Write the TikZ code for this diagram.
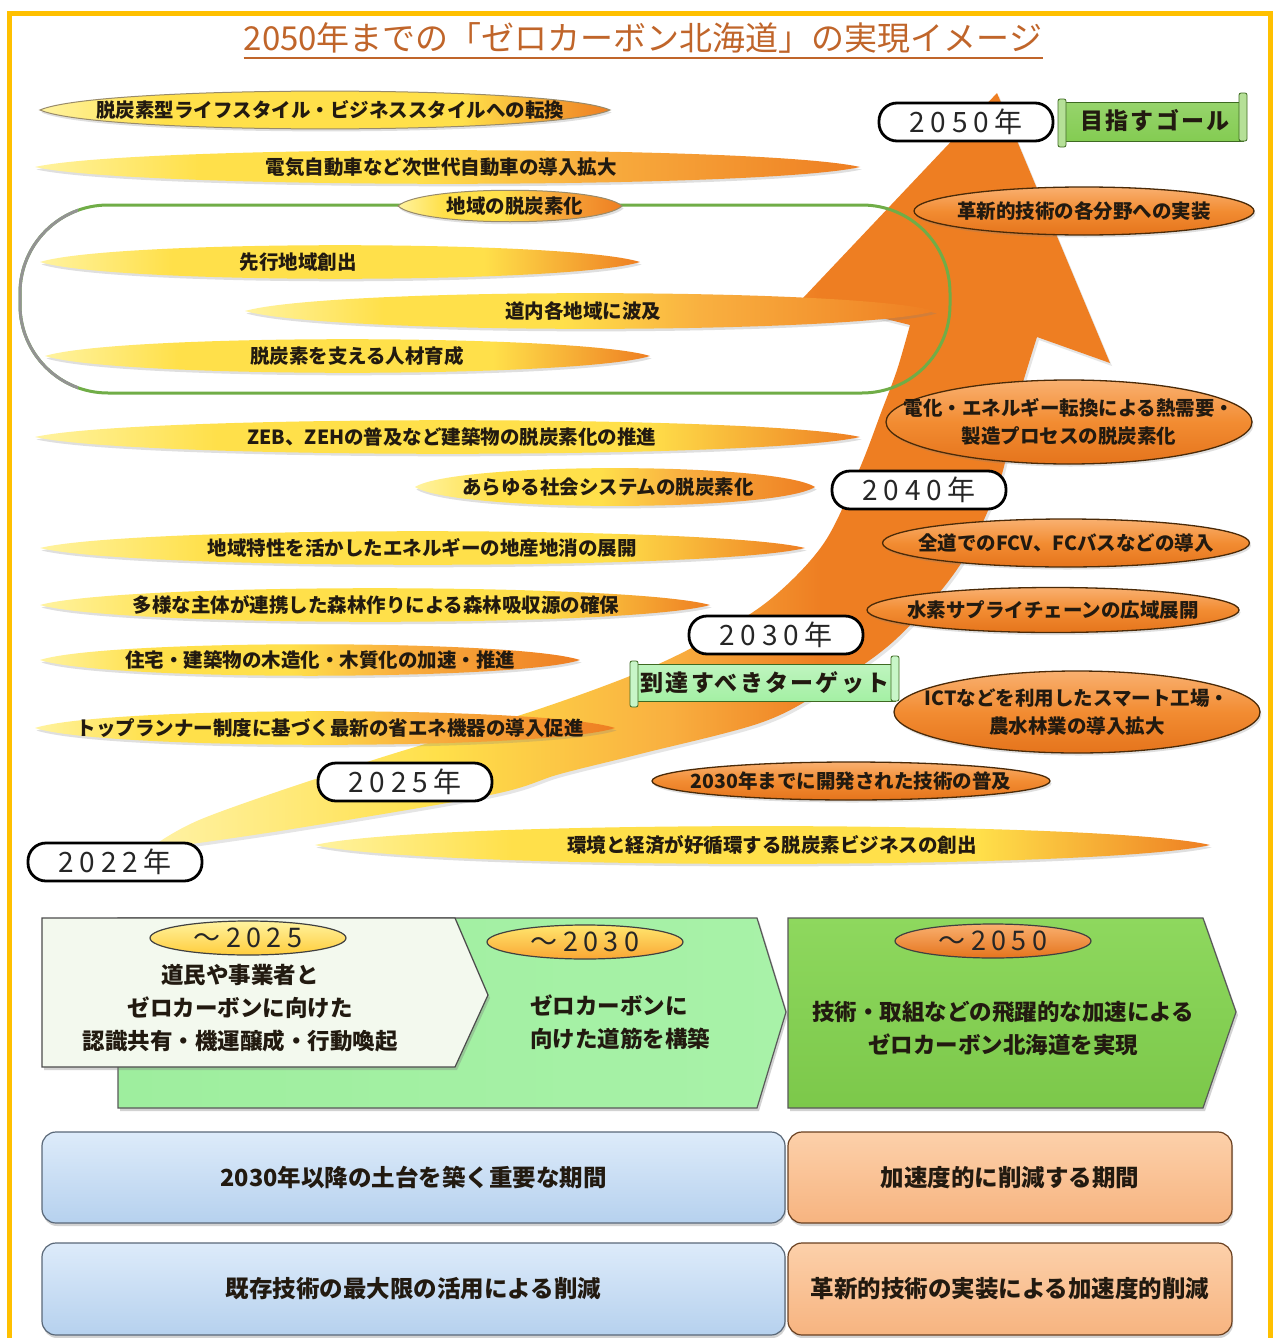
\documentclass[tikz,border=0pt]{standalone}
\usepackage{fontspec}
\usetikzlibrary{shapes.geometric,shadows,calc}
\newfontfamily\jp{Noto Sans CJK JP}
\newfontfamily\jpwide[LetterSpace=20]{Noto Sans CJK JP}
\newfontfamily\jpsp[LetterSpace=10]{Noto Sans CJK JP}

\definecolor{frameY}{HTML}{FFC000}
\definecolor{titleC}{HTML}{C0652A}
\definecolor{lyel}{HTML}{FFF3A0}
\definecolor{yel}{HTML}{FFE04A}
\definecolor{yorg}{HTML}{F9B040}
\definecolor{org}{HTML}{EE7E22}
\definecolor{arrY}{HTML}{FFF2A6}
\definecolor{lensD}{HTML}{6E5A2A}
\definecolor{ellT}{HTML}{F9B070}
\definecolor{ellM}{HTML}{F28C32}
\definecolor{ellB}{HTML}{E5741C}
\definecolor{ellD}{HTML}{4A2A08}
\definecolor{frameG}{HTML}{70AD47}
\definecolor{goalG}{HTML}{84CC52}
\definecolor{goalD}{HTML}{3E6A22}
\definecolor{tgtG}{HTML}{A4F0A4}
\definecolor{ltG}{HTML}{A8F2A8}
\definecolor{ltG2}{HTML}{9EEE9E}
\definecolor{gG1}{HTML}{8ED85E}
\definecolor{gG2}{HTML}{7CC84A}
\definecolor{wG}{HTML}{F3F9EE}
\definecolor{bT}{HTML}{DDEBFA}
\definecolor{bB}{HTML}{B6D1EE}
\definecolor{bD}{HTML}{5A6878}
\definecolor{oT}{HTML}{FCD0AA}
\definecolor{oB}{HTML}{F7B480}
\definecolor{oD}{HTML}{6A4020}
\definecolor{txt}{HTML}{221A10}

\pgfdeclarehorizontalshading{lensY}{100bp}{color(0bp)=(lyel); color(25bp)=(lyel); color(36bp)=(yel); color(62bp)=(yel); color(75bp)=(org); color(100bp)=(org)}
\pgfdeclarehorizontalshading{lensO}{100bp}{color(0bp)=(lyel); color(25bp)=(lyel); color(35bp)=(yel); color(48bp)=(yel); color(58bp)=(yorg); color(75bp)=(org); color(100bp)=(org)}
\pgfdeclarehorizontalshading{arrowS}{100bp}{color(0bp)=(arrY); color(25bp)=(arrY); color(40bp)=(yel); color(52bp)=(yorg); color(60bp)=(org); color(75bp)=(org); color(100bp)=(org)}

\newcommand\mylens[9][]{%
 \path[lensbase,#1] (#3,#5) .. controls ({#3+#9*(#4-#3)},{#5-1.4*#6}) and ({#4-#9*(#4-#3)},{#5-1.4*#6}) .. (#4,#5) .. controls ({#4-#9*(#4-#3)},{#5+1.4*#6}) and ({#3+#9*(#4-#3)},{#5+1.4*#6}) .. cycle;
 \node[lenstext] (#2) at (#7,#5) {#8};
}
\newcommand\myell[6]{%
 \node[ellbg, minimum width=#4pt, minimum height=#5pt] (#1) at (#2,#3) {};
 \node[elltext] (#1t) at (#1.center) {#6};
}

\tikzset{
 lensbase/.style={shade, shading=lensY, drop shadow={opacity=0.25, shadow xshift=1.5pt, shadow yshift=-2.5pt}},
 lenstext/.style={font=\jp\bfseries\fontsize{19.5}{22}\selectfont, text=txt, inner sep=0pt},
 ellbg/.style={ellipse, draw=ellD, line width=1.3pt, top color=ellT, bottom color=ellB, middle color=ellM, inner sep=0pt, drop shadow={opacity=0.25, shadow xshift=1.5pt, shadow yshift=-2.5pt}},
 elltext/.style={font=\jp\bfseries\fontsize{19.5}{28}\selectfont, text=txt, align=center, inner sep=0pt},
 yearlbl/.style={draw=black, line width=2.8pt, fill=white, rounded corners=18pt, minimum width=174pt, minimum height=38pt, inner sep=0pt, font=\jpwide\fontsize{28}{28}\selectfont, text=black!85},
 bannertext/.style={font=\jpsp\bfseries\fontsize{23}{23}\selectfont, text=txt, inner sep=0pt},
 badgebg/.style={ellipse, draw=black!75, line width=1.2pt, inner sep=0pt, minimum width=196pt, minimum height=34pt},
 badgetext/.style={font=\jpwide\fontsize{27}{27}\selectfont, text=black!85, inner sep=0pt},
 btext/.style={font=\jp\bfseries\fontsize{22.5}{33}\selectfont, text=txt, inner sep=0pt},
 bluebox/.style={rounded corners=14pt, top color=bT, bottom color=bB, draw=bD, line width=1.2pt, drop shadow={opacity=0.35, shadow xshift=1pt, shadow yshift=-3pt}, font=\jp\bfseries\fontsize{23.5}{26}\selectfont, text=txt, inner sep=0pt},
 orgbox/.style={rounded corners=14pt, top color=oT, bottom color=oB, draw=oD, line width=1.2pt, drop shadow={opacity=0.35, shadow xshift=1pt, shadow yshift=-3pt}, font=\jp\bfseries\fontsize{23.5}{26}\selectfont, text=txt, inner sep=0pt},
}

\begin{document}
\begin{tikzpicture}[x=1pt,y=-1pt]
\useasboundingbox (0,0) rectangle (1276,1338);
\fill[white] (0,0) rectangle (1276,1338);
\draw[frameY, line width=5pt] (9,14) rectangle (1270,1360);

% title
\node[font=\jp\fontsize{33}{33}\selectfont, text=titleC, inner sep=0pt] (title) at (643,38) {2050年までの「ゼロカーボン北海道」の実現イメージ};
\draw[titleC, line width=2pt] ([yshift=-4pt]title.south west) -- ([yshift=-4pt]title.south east);

% big arrow
\path[shade, shading=arrowS, drop shadow={opacity=0.2, shadow xshift=2pt, shadow yshift=-3pt}]
 plot[smooth, tension=0.55] coordinates {(148,850) (204,818) (367,762) (530,712) (640,672) (710,638) (772,598) (824,543) (859,470) (882,410) (897,370) (910,325)}
 -- (803,298) -- (997,93) -- (1110,363) -- (1037,337)
 -- plot[smooth, tension=0.55] coordinates {(1037,337) (1015,410) (1000,480) (960,565) (895,640) (824,690) (760,723) (640,754) (560,774) (490,795) (286,830) (148,850)}
 -- cycle;

% green frame
\draw[frameG, line width=3pt, rounded corners=88pt] (20,205) rectangle (950,393);
\begin{scope}
 \clip (0,150) rectangle (78,450);
 \draw[gray!85, line width=3pt, rounded corners=88pt] (20,205) rectangle (950,393);
\end{scope}

% lenses
\mylens[shading=lensY, draw=lensD!70, line width=1pt]{l1}{40}{610}{110}{18}{330}{脱炭素型ライフスタイル・ビジネススタイルへの転換}{0.1}
\mylens[shading=lensO]{l2}{35}{860}{167}{16}{441}{電気自動車など次世代自動車の導入拡大}{0.12}
\mylens[shading=lensO, draw=lensD!70, line width=1pt]{l3}{398}{622}{206}{15}{515}{地域の脱炭素化}{0.1}
\mylens{l4}{40}{640}{262}{16}{298}{先行地域創出}{0.12}
\mylens[shading=lensO]{l5}{245}{935}{311}{17}{583}{道内各地域に波及}{0.12}
\mylens{l6}{45}{650}{356}{16}{357}{脱炭素を支える人材育成}{0.12}
\mylens{l7}{35}{860}{437}{16}{452}{ZEB、ZEHの普及など建築物の脱炭素化の推進}{0.12}
\mylens[shading=lensO]{l8}{415}{815}{487}{18}{608}{あらゆる社会システムの脱炭素化}{0.1}
\mylens{l9}{40}{805}{548}{16}{422}{地域特性を活かしたエネルギーの地産地消の展開}{0.12}
\mylens{l10}{40}{710}{605}{16}{376}{多様な主体が連携した森林作りによる森林吸収源の確保}{0.12}
\mylens[shading=lensO]{l11}{40}{580}{660}{15}{320}{住宅・建築物の木造化・木質化の加速・推進}{0.12}
\mylens[shading=lensO]{l12}{35}{615}{728}{16}{330}{トップランナー制度に基づく最新の省エネ機器の導入促進}{0.12}
\mylens{l13}{315}{1210}{845}{18}{772}{環境と経済が好循環する脱炭素ビジネスの創出}{0.12}

% right ellipses
\myell{e1}{1084}{211}{340}{48}{革新的技術の各分野への実装}
\myell{e2}{1069}{422}{366}{84}{電化・エネルギー転換による熱需要・\\製造プロセスの脱炭素化}
\myell{e3}{1066}{543}{367}{48}{全道でのFCV、FCバスなどの導入}
\myell{e4}{1053}{610}{372}{45}{水素サプライチェーンの広域展開}
\myell{e5}{1077}{712}{366}{82}{ICTなどを利用したスマート工場・\\農水林業の導入拡大}
\myell{e6}{851}{781}{398}{38}{2030年までに開発された技術の普及}

% year labels
\node[yearlbl] (y2050) at (966,122) {2050年};
\node[yearlbl] (y2040) at (919,490) {2040年};
\node[yearlbl] (y2030) at (776,635) {2030年};
\node[yearlbl] (y2025) at (405,782) {2025年};
\node[yearlbl] (y2022) at (115,862) {2022年};

% banners
\path[top color=goalG!85!white, bottom color=goalG, draw=goalD, line width=1pt] (1063,102) rectangle (1243,141);
\path[fill=goalG!60!white, draw=goalD, line width=0.8pt, rounded corners=2pt] (1058,99) rectangle (1066,147);
\path[fill=goalG!60!white, draw=goalD, line width=0.8pt, rounded corners=2pt] (1239,93) rectangle (1247,141);
\node[bannertext] (goal) at (1155,121) {目指すゴール};

\path[top color=tgtG!70!white, bottom color=tgtG, draw=goalD, line width=1pt] (635,664) rectangle (895,701);
\path[fill=tgtG!60!white, draw=goalD, line width=0.8pt, rounded corners=2pt] (630,661) rectangle (638,707);
\path[fill=tgtG!60!white, draw=goalD, line width=0.8pt, rounded corners=2pt] (891,656) rectangle (899,701);
\node[bannertext] (target) at (765,683) {到達すべきターゲット};

% bottom chevrons
\path[left color=ltG2, right color=ltG, draw=black!65, line width=1.2pt, drop shadow={opacity=0.35, shadow xshift=2pt, shadow yshift=-3pt}] (118,918) -- (757,918) -- (786,1012) -- (757,1108) -- (118,1108) -- cycle;
\path[top color=gG1, bottom color=gG2, draw=black!65, line width=1.2pt, drop shadow={opacity=0.35, shadow xshift=2pt, shadow yshift=-3pt}] (788,918) -- (1203,918) -- (1236,1012) -- (1203,1108) -- (788,1108) -- cycle;
\path[fill=wG, draw=black!70, line width=1.2pt, drop shadow={opacity=0.35, shadow xshift=2pt, shadow yshift=-3pt}] (42,918) -- (455,918) -- (488,995) -- (455,1067) -- (42,1067) -- cycle;

\node[badgebg, top color=lyel, bottom color=yel!80!orange] (b1) at (248,938) {};
\node[badgetext] (b1t) at (b1.center) {～2025};
\node[badgebg, top color=yel!80!white, bottom color=yorg!80!orange] (b2) at (585,942) {};
\node[badgetext] (b2t) at (b2.center) {～2030};
\node[badgebg, top color=ellT, bottom color=ellB] (b3) at (993,941) {};
\node[badgetext] (b3t) at (b3.center) {～2050};

\node[btext, align=center] (t1) at (240,1008) {道民や事業者と\\ゼロカーボンに向けた\\認識共有・機運醸成・行動喚起};
\node[btext, align=left, anchor=west] (t2) at (530,1022) {ゼロカーボンに\\向けた道筋を構築};
\node[btext, align=center] (t3) at (1003,1028) {技術・取組などの飛躍的な加速による\\ゼロカーボン北海道を実現};

% bottom boxes
\node[bluebox, minimum width=743pt, minimum height=91pt] (p1) at (413.5,1177.5) {2030年以降の土台を築く重要な期間};
\node[orgbox, minimum width=444pt, minimum height=91pt] (p2) at (1010,1177.5) {加速度的に削減する期間};
\node[bluebox, minimum width=743pt, minimum height=92pt] (p3) at (413.5,1289) {既存技術の最大限の活用による削減};
\node[orgbox, minimum width=444pt, minimum height=92pt] (p4) at (1010,1289) {革新的技術の実装による加速度的削減};
\end{tikzpicture}
\end{document}
